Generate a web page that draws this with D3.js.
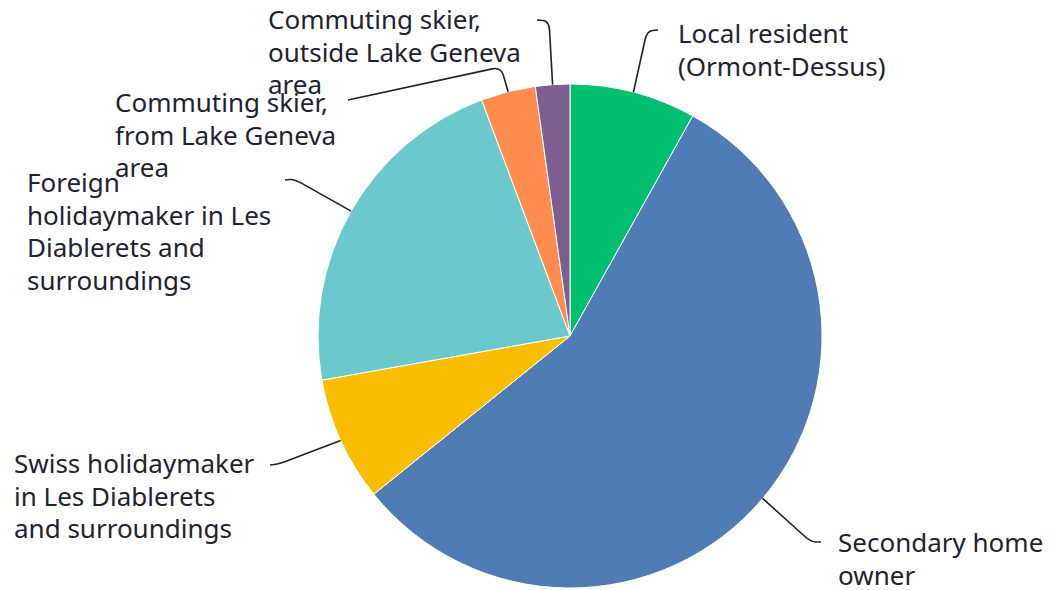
<!DOCTYPE html>
<html>
<head>
<meta charset="utf-8">
<script src="https://d3js.org/d3.v7.min.js"></script>
<style>
  body { margin: 0; background: #fff; }
  svg { display: block; }
</style>
</head>
<body>
<svg width="1052" height="590"></svg>
<script>
// data, clockwise from 12 o'clock
const categories = [
    ["Local resident", "(Ormont-Dessus)"],
    ["Secondary home", "owner"],
    ["Swiss holidaymaker", "in Les Diablerets", "and surroundings"],
    ["Foreign", "holidaymaker in Les", "Diablerets and", "surroundings"],
    ["Commuting skier,", "from Lake Geneva", "area"],
    ["Commuting skier,", "outside Lake Geneva", "area"]
];
const values = [8.1, 56.1, 8.0, 22.1, 3.5, 2.2];
const colors = ["#00bf6f", "#507cb6", "#f9be00", "#6bc8cd", "#ff8b4f", "#7d5e90"];

// label layout: text anchor, leader elbow and leader end
const labelPos = [
    { tx: 678, ty: 43,  elbow: [647, 31],  end: [658, 30] },
    { tx: 838, ty: 552, elbow: [811, 542], end: [821, 542] },
    { tx: 14,  ty: 473, elbow: [279, 464], end: [270, 465] },
    { tx: 27,  ty: 192, elbow: [294, 179], end: [285, 180] },
    { tx: 115, ty: 112, elbow: [501, 67],  end: [348, 100] },
    { tx: 268, ty: 29,  elbow: [549, 21],  end: [537, 20] }
];

const cx = 570, cy = 336, radius = 252;
const lineHeight = 32.5;

const svg = d3.select("svg");
const g = svg.append("g").attr("transform", "translate(" + cx + "," + cy + ")");

const pie = d3.pie().sort(null).value(d => d);
const arcs = pie(values);
const arc = d3.arc().innerRadius(0).outerRadius(radius);

g.selectAll("path.slice")
    .data(arcs)
    .enter()
    .append("path")
    .attr("class", "slice")
    .attr("d", arc)
    .attr("fill", (d, i) => colors[i])
    .attr("stroke", "#fff")
    .attr("stroke-width", 1);

// leader lines: straight, rounded corner, straight
function leader(d, i) {
    const a = (d.startAngle + d.endAngle) / 2;
    const s = [cx + radius * Math.sin(a), cy - radius * Math.cos(a)];
    const e = labelPos[i].elbow, t = labelPos[i].end;
    const k = 9;
    function toward(p, q, dist) {
        const dx = q[0] - p[0], dy = q[1] - p[1];
        const len = Math.sqrt(dx * dx + dy * dy) || 1;
        const f = Math.min(dist, len / 2) / len;
        return [p[0] + dx * f, p[1] + dy * f];
    }
    const p1 = toward(e, s, k), p2 = toward(e, t, k);
    const path = d3.path();
    path.moveTo(s[0], s[1]);
    path.lineTo(p1[0], p1[1]);
    path.quadraticCurveTo(e[0], e[1], p2[0], p2[1]);
    path.lineTo(t[0], t[1]);
    return path.toString();
}

svg.selectAll("path.leader")
    .data(arcs)
    .enter()
    .append("path")
    .attr("class", "leader")
    .attr("d", leader)
    .attr("fill", "none")
    .attr("stroke", "#222")
    .attr("stroke-width", 1.6);

const labels = svg.selectAll("text.label")
    .data(categories)
    .enter()
    .append("text")
    .attr("class", "label")
    .attr("x", (d, i) => labelPos[i].tx)
    .attr("y", (d, i) => labelPos[i].ty)
    .style("font-family", "'Noto Sans', sans-serif")
    .style("font-size", "26px")
    .attr("fill", "#1f2330");

labels.selectAll("tspan")
    .data((d, i) => d.map(line => ({ line, i })))
    .enter()
    .append("tspan")
    .attr("x", d => labelPos[d.i].tx)
    .attr("dy", (d, j) => j === 0 ? 0 : lineHeight)
    .text(d => d.line);
</script>
</body>
</html>
